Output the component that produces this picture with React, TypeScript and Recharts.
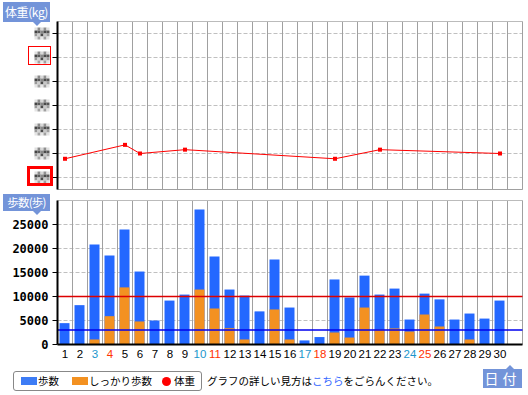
import React from "react";
import { ComposedChart, Line, Bar, XAxis, YAxis, CartesianGrid, ReferenceLine } from "recharts";

const DAYS = [1, 2, 3, 4, 5, 6, 7, 8, 9, 10, 11, 12, 13, 14, 15, 16, 17, 18, 19, 20, 21, 22, 23, 24, 25, 26, 27, 28, 29, 30];
const STEPS = [4450, 8200, 20850, 18550, 23950, 15200, 5000, 9150, 10400, 28150, 18350, 11450, 10200, 6900, 17700, 7700, 850, 1550, 13550, 9800, 14350, 10400, 11650, 5200, 10600, 9400, 5200, 6450, 5400, 9150];
const FIRM_STEPS = [0, 0, 1050, 5900, 11900, 4800, 0, 0, 0, 11450, 7500, 3400, 1050, 0, 7300, 1050, 0, 0, 2500, 1450, 7700, 3100, 3350, 2700, 6250, 3750, 0, 1050, 0, 0];
const WEIGHT: (number | null)[] = [55.78, null, null, null, 56.36, 56.0, null, null, 56.16, null, null, null, null, null, null, null, null, null, 55.78, null, null, 56.16, null, null, null, null, null, null, null, 56.0];

const SATURDAYS = [3, 10, 17, 24];
const SUNDAYS = [4, 11, 18, 25];
const WEIGHT_TICKS = [55, 56, 57, 58, 59, 60, 61];
const STEP_TICKS = [0, 5000, 10000, 15000, 20000, 25000];
const STEP_TARGET = 10000;
const FIRM_TARGET = 3000;
// column boundaries (one spare column after day 30)
const GRID_X = Array.from({ length: 31 }, (_, i) => i + 1.5);

const data = DAYS.map((day, i) => ({ day, steps: STEPS[i], firm: FIRM_STEPS[i], weight: WEIGHT[i] }));

const LABEL_BG = "#7394d9";
const JP = "'Noto Sans CJK JP', 'Noto Sans', sans-serif";

const MOSAIC = [
  ["#e0e0e0", "#8a8a8a", "#d8d8d8", "#909090", "#e0e0e0"],
  ["#444", "#5a5a5a", "#888", "#4a4a4a", "#555"],
  ["#999", "#d0d0d0", "#4a4a4a", "#c8c8c8", "#a0a0a0"],
  ["#e4e4e4", "#a4a4a4", "#e8e8e8", "#a0a0a0", "#e4e4e4"],
];

const MosaicTick = (props: any) => {
  const { x, y, payload } = props;
  const left = x - 16;
  const top = y - 6;
  return (
    <g>
      {MOSAIC.map((row, r) =>
        row.map((c, k) => <rect key={`${r}-${k}`} x={left + k * 3} y={top + r * 3} width={3} height={3} fill={c} />)
      )}
      {payload.value === 60 && <rect x={28.5} y={y - 11} width={22} height={18} fill="none" stroke="#ff0000" strokeWidth={1} />}
      {payload.value === 55 && <rect x={28.5} y={y - 10} width={23} height={17} fill="none" stroke="#ff0000" strokeWidth={3} />}
    </g>
  );
};

const StepTick = (props: any) => {
  const { x, y, payload } = props;
  return (
    <text x={x - 2} y={y} dy={4.5} textAnchor="end" fontFamily="'DejaVu Sans Mono', monospace" fontWeight="bold" fontSize={12} fill="#000">
      {payload.value}
    </text>
  );
};

const DayTick = (props: any) => {
  const { x, y, payload } = props;
  const v = payload.value;
  const fill = SATURDAYS.includes(v) ? "#1a96cc" : SUNDAYS.includes(v) ? "#ff3300" : "#000";
  return (
    <text x={x} y={y} dy={13.5} textAnchor="middle" fontFamily="'Liberation Sans', Arial, sans-serif" fontSize={11.5} fill={fill}>
      {v}
    </text>
  );
};

const Square = (props: any) => {
  const { cx, cy, value } = props;
  if (value == null || cx == null) return <g />;
  return <rect x={cx - 2} y={cy - 2} width={4} height={4} fill="#ff0000" />;
};

const Tag = ({ left, top, width, height, text, up, arrowX, spacing, size }: any) => (
  <>
    <div style={{ position: "absolute", left, top, width, height, background: LABEL_BG, color: "#fff", fontFamily: JP, fontSize: size || 12, lineHeight: `${height}px`, textAlign: "center", letterSpacing: spacing || 0, whiteSpace: "nowrap" }}>
      {text}
    </div>
    <div
      style={{
        position: "absolute",
        left: arrowX - 4,
        top: up ? top - 4 : top + height,
        width: 0,
        height: 0,
        borderLeft: "4px solid transparent",
        borderRight: "4px solid transparent",
        ...(up ? { borderBottom: `4px solid ${LABEL_BG}` } : { borderTop: `4px solid ${LABEL_BG}` }),
      }}
    />
  </>
);

export default function App() {
  return (
    <div style={{ position: "absolute", left: 0, top: 0, width: 528, height: 395, background: "#fff", overflow: "hidden" }}>
      <div style={{ position: "absolute", left: 0, top: 0 }}>
        <ComposedChart width={528} height={200} data={data} margin={{ top: 21.5, right: 5.5, bottom: 10.5, left: 0 }}>
          <CartesianGrid horizontal vertical={false} stroke="#c0c0c0" strokeDasharray="4 2" />
          <XAxis type="number" dataKey="day" domain={[0.5, 31.5]} ticks={DAYS} tick={false} tickLine={false} axisLine={false} height={0} />
          <YAxis width={57.5} domain={[54.5, 61.5]} ticks={WEIGHT_TICKS} tick={<MosaicTick />} tickSize={5} tickLine={{ stroke: "#000" }} axisLine={{ stroke: "#000", strokeWidth: 2 }} />
          {GRID_X.map((g) => (
            <ReferenceLine key={g} x={g} stroke="#a0a0a0" />
          ))}
          <ReferenceLine y={61.5} stroke="#bbbbbb" />
          <ReferenceLine y={54.5} stroke="#a0a0a0" />
          <Line dataKey="weight" connectNulls stroke="#ff0000" strokeWidth={1} dot={<Square />} activeDot={false} isAnimationActive={false} />
        </ComposedChart>
      </div>
      <div style={{ position: "absolute", left: 0, top: 0 }}>
        <ComposedChart width={528} height={395} data={data} margin={{ top: 200.5, right: 5.5, bottom: 30.5, left: 0 }} barSize={10} barGap={-10}>
          <CartesianGrid horizontal vertical={false} stroke="#c0c0c0" strokeDasharray="4 2" />
          <XAxis type="number" dataKey="day" domain={[0.5, 31.5]} ticks={DAYS} interval={0} tick={<DayTick />} tickSize={0} tickMargin={0} tickLine={false} axisLine={{ stroke: "#000", strokeWidth: 2 }} height={20} />
          <YAxis width={57.5} domain={[0, 30000]} ticks={STEP_TICKS} tick={<StepTick />} tickSize={5} tickLine={{ stroke: "#000" }} axisLine={{ stroke: "#000", strokeWidth: 2 }} />
          {GRID_X.map((g) => (
            <ReferenceLine key={g} x={g} stroke="#a0a0a0" />
          ))}
          <ReferenceLine y={30000} stroke="#bbbbbb" />
          <Bar dataKey="steps" fill="#2468ff" isAnimationActive={false} />
          <Bar dataKey="firm" fill="#f39121" isAnimationActive={false} />
          <ReferenceLine y={STEP_TARGET} stroke="#dd0000" strokeWidth={1.5} />
          <ReferenceLine y={FIRM_TARGET} stroke="#0000ee" strokeWidth={1.5} />
        </ComposedChart>
      </div>

      <Tag left={3} top={2} width={47} height={20} text="体重(kg)" arrowX={37} spacing={-0.4} />
      <Tag left={3} top={194} width={47} height={17} text="歩数(歩)" arrowX={37} spacing={-0.8} size={11.5} />
      <Tag left={483} top={369} width={39} height={19} text="日付" up arrowX={510} spacing={4} size={14} />

      <div style={{ position: "absolute", left: 13, top: 371, width: 187, height: 18, border: "1px solid #888", borderRadius: 3, fontFamily: JP, fontSize: 10.5, color: "#000" }}>
        <div style={{ position: "absolute", left: 7, top: 5, width: 16, height: 8, background: "#3d7cf5" }} />
        <div style={{ position: "absolute", left: 24, top: 0, lineHeight: "18px" }}>歩数</div>
        <div style={{ position: "absolute", left: 58, top: 5, width: 16, height: 8, background: "#f39121" }} />
        <div style={{ position: "absolute", left: 75, top: 0, lineHeight: "18px" }}>しっかり歩数</div>
        <div style={{ position: "absolute", left: 148, top: 4.5, width: 9, height: 9, borderRadius: "50%", background: "#ff0000" }} />
        <div style={{ position: "absolute", left: 160, top: 0, lineHeight: "18px" }}>体重</div>
      </div>
      <div style={{ position: "absolute", left: 207, top: 372, lineHeight: "18px", fontFamily: JP, fontSize: 10.5, color: "#000", whiteSpace: "nowrap" }}>
        グラフの詳しい見方は<span style={{ color: "#3366ff" }}>こちら</span>をごらんください。
      </div>
    </div>
  );
}
